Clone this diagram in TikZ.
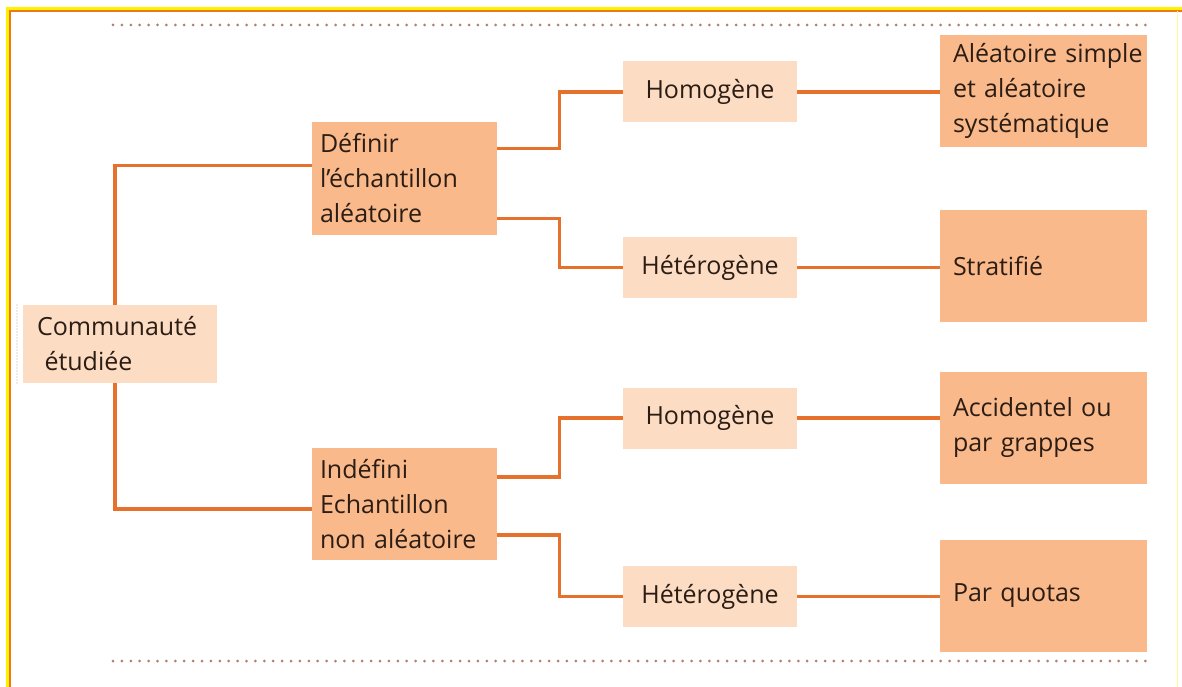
\documentclass[tikz,border=0pt]{standalone}
\usepackage{fontspec}
\setmainfont{Open Sans}
\usetikzlibrary{calc}

\definecolor{peachdark}{HTML}{F9B98B}
\definecolor{peachlight}{HTML}{FDDCC4}
\definecolor{branchline}{HTML}{E5712C}
\definecolor{textbrown}{HTML}{2B1D14}
\definecolor{frameyellow}{HTML}{FFF200}
\definecolor{frameorange}{HTML}{F07818}
\definecolor{dotgray}{HTML}{B0806A}

\begin{document}
\begin{tikzpicture}[x=1pt,y=-1pt,
    box/.style={rectangle,inner ysep=0pt,text=textbrown,font=\fontsize{25}{35}\selectfont},
    darkbox/.style={box,fill=peachdark,align=left},
    lightbox/.style={box,fill=peachlight,minimum width=174pt,minimum height=61pt},
    leafbox/.style={darkbox,minimum width=207pt,minimum height=112pt,text width=181pt,inner xsep=13pt},
    branch/.style={draw=branchline,line width=3.2pt},
    dotrule/.style={draw=dotgray,line width=3pt,line cap=round,dash pattern=on 0pt off 8.9pt}]
  \useasboundingbox (0,0) rectangle (1182,687);
  \fill[white] (0,0) rectangle (1182,687);
  \draw[frameyellow,line width=3.2pt] (7.5,687) -- (7.5,8.3) -- (1182,8.3);
  \draw[frameorange,line width=1.5pt] (9.8,687) -- (9.8,10.8) -- (1182,10.8);
  \draw[frameyellow!40,line width=1pt] (1177.5,11) -- (1177.5,687);
  \draw[dotrule] (113,25) -- (1150,25);
  \draw[dotrule] (113,661) -- (1150,661);
  \draw[draw=dotgray!70,line width=1.2pt,line cap=round,dash pattern=on 0pt off 3pt] (17,305) -- (17,383);

  \node[box,fill=peachlight,minimum width=194pt,minimum height=78pt,text width=166pt,inner xsep=14pt,align=left] (com) at (120,344) {Communauté\\\hspace{0.3em}étudiée};
  \node[darkbox,minimum width=185pt,minimum height=113pt,text width=169pt,inner xsep=8pt] (def) at (404.5,178.5) {Définir\\l’échantillon\\aléatoire};
  \node[darkbox,minimum width=185pt,minimum height=112pt,text width=169pt,inner xsep=8pt] (indef) at (404.5,504) {Indéfini\\Echantillon\\non aléatoire};

  \node[lightbox] (hom1) at (710,92) {Homogène};
  \node[lightbox] (het1) at (710,267.5) {Hétérogène};
  \node[lightbox] (hom2) at (710,418) {Homogène};
  \node[lightbox] (het2) at (710,596.5) {Hétérogène};

  \node[leafbox] (simple) at (1043.5,91) {\mbox{Aléatoire simple}\\et aléatoire\\systématique};
  \node[leafbox] (strat) at (1043.5,266) {Stratifié};
  \node[leafbox] (grappe) at (1043.5,428) {\mbox{Accidentel ou}\\par grappes};
  \node[leafbox] (quota) at (1043.5,596) {Par quotas};

  \draw[branch] ([xshift=-5pt]com.north) |- ([yshift=13pt]def.west);
  \draw[branch] ([xshift=-5pt]com.south) |- ([yshift=-5pt]indef.west);
  \draw[branch] ([yshift=30pt]def.east) -- ++(62,0) |- (hom1.west);
  \draw[branch] ([yshift=-40pt]def.east) -- ++(62,0) |- (het1.west);
  \draw[branch] ([yshift=27pt]indef.east) -- ++(62,0) |- (hom2.west);
  \draw[branch] ([yshift=-31pt]indef.east) -- ++(62,0) |- (het2.west);
  \draw[branch] (hom1.east) -- (hom1.east -| simple.west);
  \draw[branch] (het1.east) -- (het1.east -| strat.west);
  \draw[branch] (hom2.east) -- (hom2.east -| grappe.west);
  \draw[branch] (het2.east) -- (het2.east -| quota.west);
\end{tikzpicture}
\end{document}
